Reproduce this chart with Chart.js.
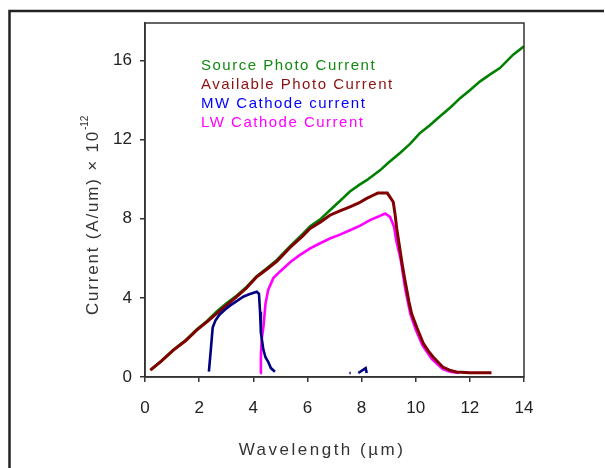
<!DOCTYPE html>
<html>
<head>
<meta charset="utf-8">
<script src="https://cdn.jsdelivr.net/npm/chart.js@4"></script>
<style>
  html, body { margin: 0; padding: 0; background: #fff; }
  canvas { display: block; }
</style>
</head>
<body>
<canvas id="spectrumChart" width="605" height="468"></canvas>
<script>
// wavelength (um) and current (A/um x 1e-12)
const sourceX = [0.2, 0.6, 1.05, 1.5, 1.91, 2.3, 2.65, 3.0, 3.39, 3.75, 4.13, 4.5, 4.87, 5.36, 5.8, 6.1, 6.5, 6.83, 7.2, 7.57, 7.9, 8.19, 8.68, 9.0, 9.42, 9.8, 10.16, 10.5, 10.9, 11.3, 11.64, 12.0, 12.38, 12.75, 13.11, 13.6, 14.0];
const sourceY = [0.35, 0.8, 1.38, 1.86, 2.4, 2.85, 3.32, 3.72, 4.12, 4.55, 5.1, 5.5, 5.92, 6.62, 7.2, 7.62, 8.0, 8.43, 8.9, 9.38, 9.7, 9.95, 10.45, 10.85, 11.33, 11.8, 12.34, 12.7, 13.18, 13.65, 14.1, 14.5, 14.95, 15.3, 15.62, 16.3, 16.72];

const availX = [0.2, 0.6, 1.05, 1.5, 1.91, 2.3, 2.65, 3.0, 3.39, 3.75, 4.13, 4.5, 4.87, 5.36, 5.8, 6.1, 6.5, 6.83, 7.2, 7.57, 7.9, 8.19, 8.43, 8.6, 8.8, 8.95, 9.05, 9.17, 9.24, 9.3, 9.4, 9.5, 9.6, 9.67, 9.75, 9.85, 10.04, 10.28, 10.5, 10.65, 11.0, 11.25, 11.5, 12.0, 12.8];
const availY = [0.35, 0.8, 1.36, 1.83, 2.37, 2.8, 3.22, 3.62, 4.06, 4.5, 5.07, 5.45, 5.85, 6.55, 7.1, 7.51, 7.85, 8.18, 8.4, 8.6, 8.8, 9.03, 9.19, 9.3, 9.31, 9.3, 9.1, 8.85, 8.2, 7.5, 6.6, 5.7, 4.9, 4.4, 3.8, 3.2, 2.5, 1.7, 1.25, 1.0, 0.5, 0.35, 0.25, 0.22, 0.22];

const mwX = [2.36, 2.43, 2.5, 2.6, 2.75, 2.95, 3.15, 3.4, 3.63, 3.85, 4.13, 4.21, 4.25, 4.28, 4.37, 4.45, 4.55, 4.65, 4.8, 6.0, 7.55, 7.6, 7.7, 7.88, 8.15, 8.19];
const mwY = [0.27, 1.36, 2.5, 2.85, 3.15, 3.4, 3.62, 3.85, 4.06, 4.18, 4.31, 4.2, 3.3, 2.25, 1.4, 1.0, 0.77, 0.45, 0.27, null, 0.2, 0.2, null, 0.2, 0.45, 0.2];

const lwX = [4.25, 4.28, 4.31, 4.38, 4.45, 4.55, 4.74, 5.0, 5.36, 5.7, 6.1, 6.45, 6.83, 7.2, 7.57, 7.95, 8.31, 8.6, 8.87, 9.05, 9.2, 9.28, 9.45, 9.62, 9.8, 10.0, 10.25, 10.6, 11.0, 11.3, 11.6];
const lwY = [0.2, 1.0, 1.9, 2.6, 3.7, 4.4, 5.0, 5.35, 5.8, 6.15, 6.5, 6.75, 7.0, 7.2, 7.42, 7.65, 7.93, 8.1, 8.27, 8.1, 7.6, 6.9, 5.9, 4.4, 3.2, 2.4, 1.6, 0.9, 0.4, 0.25, 0.2];

const seriesLabels = ['Source Photo Current', 'Available Photo Current', 'MW Cathode current', 'LW Cathode Current'];
const lineColors = ['#008000', '#800000', '#000080', '#ff00ff'];
const legendColors = ['#108a10', '#8b1010', '#0000ff', '#ff00ff'];

const xTicks = [0, 2, 4, 6, 8, 10, 12, 14];
const yTicks = [0, 4, 8, 12, 16];

function toPoints(xs, ys) {
    return xs.map((x, i) => ({ x: x, y: ys[i] }));
}

const FONT = '"Liberation Sans", Arial, sans-serif';

// outer frame, plot box, in-plot legend and axis titles
const decorPlugin = {
    id: 'decor',
    beforeDraw(chart) {
        const ctx = chart.ctx;
        ctx.save();
        ctx.fillStyle = '#fff';
        ctx.fillRect(0, 0, chart.width, chart.height);
        ctx.strokeStyle = '#222';
        ctx.lineWidth = 2.5;
        ctx.beginPath();
        ctx.moveTo(9.5, chart.height);
        ctx.lineTo(9.5, 11);
        ctx.lineTo(604, 11);
        ctx.stroke();
        ctx.restore();
    },
    afterDraw(chart) {
        const ctx = chart.ctx;
        const a = chart.chartArea;
        ctx.save();
        ctx.strokeStyle = '#333';
        ctx.lineWidth = 1.5;
        ctx.strokeRect(a.left, a.top, a.right - a.left, a.bottom - a.top);

        // legend text
        ctx.font = '15px ' + FONT;
        ctx.letterSpacing = '1.5px';
        ctx.textAlign = 'left';
        ctx.textBaseline = 'alphabetic';
        seriesLabels.forEach((t, i) => {
            ctx.fillStyle = legendColors[i];
            ctx.fillText(t, 201, 69.5 + 19 * i);
        });

        // x title
        ctx.fillStyle = '#333';
        ctx.font = '17px ' + FONT;
        ctx.letterSpacing = '2.5px';
        ctx.textAlign = 'center';
        ctx.fillText('Wavelength (µm)', 322, 455);

        // y title
        ctx.translate(98, 315);
        ctx.rotate(-Math.PI / 2);
        ctx.textAlign = 'left';
        ctx.letterSpacing = '1.8px';
        const main = 'Current (A/um) × 10';
        ctx.fillText(main, 0, 0);
        const w = ctx.measureText(main).width;
        ctx.font = '10px ' + FONT;
        ctx.letterSpacing = '0px';
        ctx.fillText('-12', w, -10);
        ctx.restore();
    }
};

new Chart(document.getElementById('spectrumChart'), {
    type: 'scatter',
    data: {
        datasets: [
            { label: seriesLabels[0], data: toPoints(sourceX, sourceY), borderColor: lineColors[0], borderWidth: 2.6, order: 3 },
            { label: seriesLabels[1], data: toPoints(availX, availY), borderColor: lineColors[1], borderWidth: 3, order: 1 },
            { label: seriesLabels[2], data: toPoints(mwX, mwY), borderColor: lineColors[2], borderWidth: 2.6, order: 0 },
            { label: seriesLabels[3], data: toPoints(lwX, lwY), borderColor: lineColors[3], borderWidth: 2.6, order: 2 }
        ].map(d => Object.assign(d, { showLine: true, pointRadius: 0, tension: 0, spanGaps: false }))
    },
    options: {
        responsive: false,
        animation: false,
        layout: { padding: { left: 0, top: 23, right: 81, bottom: 0 } },
        plugins: {
            legend: { display: false },
            tooltip: { enabled: false }
        },
        scales: {
            x: {
                type: 'linear',
                min: 0,
                max: 14,
                afterBuildTicks: s => { s.ticks = xTicks.map(v => ({ value: v })); },
                afterFit: s => { s.height = 91; },
                ticks: { color: '#222', font: { size: 17, family: FONT }, padding: 16, maxRotation: 0 },
                grid: { drawOnChartArea: false, tickLength: 5, color: '#333', lineWidth: 1.5 },
                border: { color: '#333', width: 1.5 }
            },
            y: {
                type: 'linear',
                min: 0,
                max: 17.9,
                afterBuildTicks: s => { s.ticks = yTicks.map(v => ({ value: v })); },
                afterFit: s => { s.width = 145; },
                ticks: { color: '#222', font: { size: 17, family: FONT }, padding: 8 },
                grid: { drawOnChartArea: false, tickLength: 5, color: '#333', lineWidth: 1.5 },
                border: { color: '#333', width: 1.5 }
            }
        }
    },
    plugins: [decorPlugin]
});
</script>
</body>
</html>
